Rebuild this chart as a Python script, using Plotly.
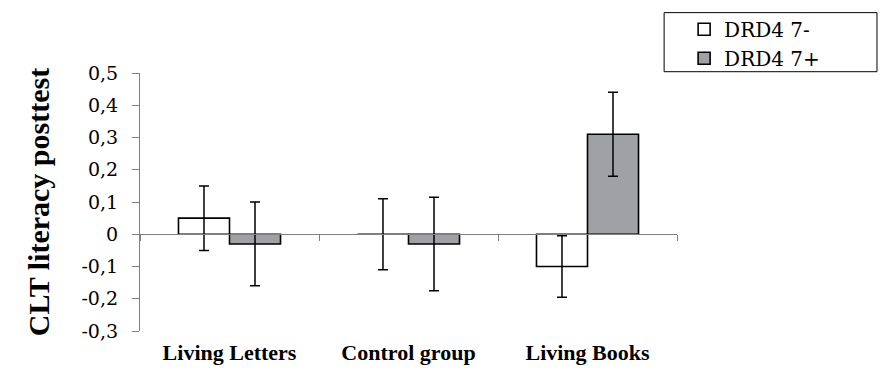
import plotly.graph_objects as go

categories = ["Living Letters", "Control group", "Living Books"]
series_names = ["DRD4 7-", "DRD4 7+"]
values_minus = [0.05, 0.0, -0.10]
errors_minus = [0.10, 0.11, 0.095]
values_plus = [-0.03, -0.03, 0.31]
errors_plus = [0.13, 0.145, 0.13]
y_tickvals = [-0.3, -0.2, -0.1, 0, 0.1, 0.2, 0.3, 0.4, 0.5]
y_ticktext = ["-0,3", "-0,2", "-0,1", "0", "0,1", "0,2", "0,3", "0,4", "0,5"]

BOLD_FONT = "Liberation Serif"
REG_FONT = "DejaVu Serif"

fig = go.Figure()
fig.add_trace(go.Bar(
    x=categories, y=values_minus, name=series_names[0],
    marker=dict(color="white", line=dict(color="black", width=1.6)),
    error_y=dict(type="data", array=errors_minus, color="black", thickness=1.5, width=5),
))
fig.add_trace(go.Bar(
    x=categories, y=values_plus, name=series_names[1],
    marker=dict(color="#9FA1A4", line=dict(color="black", width=1.6)),
    error_y=dict(type="data", array=errors_plus, color="black", thickness=1.5, width=5),
))

fig.update_layout(
    width=880, height=371,
    margin=dict(l=140, r=203, t=73, b=40, autoexpand=False),
    paper_bgcolor="white", plot_bgcolor="white",
    barmode="group", bargap=0.43, bargroupgap=0,
    font=dict(family=REG_FONT, color="black"),
    showlegend=True,
    legend=dict(
        x=0.976, xanchor="left", y=1.245, yanchor="top",
        bordercolor="black", borderwidth=0, bgcolor="rgba(0,0,0,0)",
        font=dict(family=REG_FONT, size=20, color="black"),
        indentation=20, tracegroupgap=0,
    ),
    shapes=[dict(type="rect", xref="paper", yref="paper",
                 x0=0.976, x1=1.3724, y0=1.234, y1=1.005,
                 line=dict(color="black", width=1), fillcolor="rgba(0,0,0,0)")],
    xaxis=dict(
        anchor="free", position=0.375,
        showline=True, linecolor="#7f7f7f", linewidth=1.2,
        ticks="outside", ticklen=6, tickcolor="#7f7f7f", tickwidth=1.2,
        tickson="boundaries",
        tickfont=dict(family=BOLD_FONT, size=22, color="black", weight="bold"),
        ticklabelstandoff=98,
        showgrid=False, zeroline=False,
    ),
    yaxis=dict(
        range=[-0.3, 0.5], tickvals=y_tickvals, ticktext=y_ticktext,
        showline=True, linecolor="#7f7f7f", linewidth=1.2,
        ticks="outside", ticklen=7, tickcolor="#7f7f7f", tickwidth=1.2,
        tickfont=dict(family=REG_FONT, size=19, color="black"),
        ticklabelstandoff=10,
        showgrid=False, zeroline=False,
        title=dict(text="<b>CLT literacy posttest</b>", font=dict(family=BOLD_FONT, size=30, color="black"), standoff=22),
    ),
)

fig.write_html("out.html", config={"displayModeBar": False},
               post_script="document.body.style.margin='0';")
